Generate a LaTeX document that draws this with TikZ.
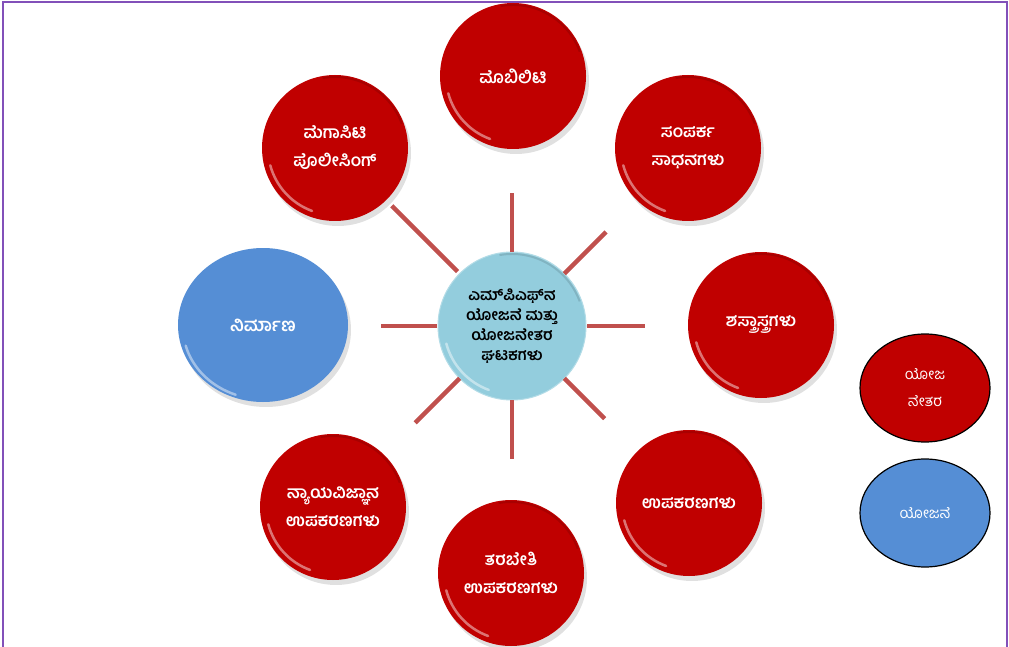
\documentclass[tikz,border=0pt]{standalone}
\usepackage{fontspec}
\newfontfamily\kn[Script=Kannada]{Hind Mysuru}
\usetikzlibrary{calc,shapes.geometric}
\definecolor{ballred}{HTML}{C00000}
\definecolor{ballblue}{HTML}{558ED5}
\definecolor{hubblue}{HTML}{93CDDD}
\definecolor{spokecol}{HTML}{C0504D}
\definecolor{framepurple}{RGB}{130,80,185}
\tikzset{
  ball/.style={circle, inner sep=0pt, align=center, text=white, font=\kn\bfseries\fontsize{17}{28}\selectfont},
  redball/.style={ball, fill=ballred, minimum size=146pt},
  hub/.style={circle, inner sep=0pt, align=center, fill=hubblue, draw=hubblue!70!white, line width=1pt, minimum size=148pt, text=black, font=\kn\bfseries\fontsize{15.5}{20}\selectfont},
  legend/.style={ellipse, draw=black, line width=1.2pt, inner sep=0pt, minimum width=130pt, minimum height=108pt, align=center, text=white, font=\kn\fontsize{15}{27}\selectfont},
  spoke/.style={draw=spokecol, line width=4.5pt},
  shade/.style={fill=black, opacity=0.12},
  glint/.style={draw=white, opacity=0.45, line width=2.5pt, line cap=round},
}
\newcommand{\glint}[2]{%
  \draw[glint] ($(#1.center)+(195:#2pt-6pt)$) arc[start angle=195, end angle=250, radius=#2pt-6pt];
  \draw[draw=black, opacity=0.12, line width=2pt] ($(#1.center)+(20:#2pt-2pt)$) arc[start angle=20, end angle=100, radius=#2pt-2pt];
}
\begin{document}
\begin{tikzpicture}[x=1pt,y=-1pt]
\useasboundingbox (0,0) rectangle (1009,647);
\fill[white] (0,0) rectangle (1009,647);
\draw[framepurple, line width=2pt] (2.5,647) -- (2.5,2) -- (1007,2) -- (1007,647);

% shadows
\fill[shade] (516,81) circle[radius=73pt];
\fill[shade] (338,153) circle[radius=73pt];
\fill[shade] (691,153) circle[radius=73pt];
\fill[shade] (764,330) circle[radius=73pt];
\fill[shade] (692,508) circle[radius=73pt];
\fill[shade] (514,578) circle[radius=73pt];
\fill[shade] (336,512) circle[radius=73pt];
\fill[shade] (266,330) ellipse[x radius=85pt, y radius=77pt];

% hub
\node[hub] (hub) at (512,326) {ಎಮ್\char"200Cಪಿಎಫ್\char"200Cನ\\ಯೋಜನೆ ಮತ್ತು\\ಯೋಜನೇತರ\\ಘಟಕಗಳು};

% outer balls
\node[redball] (mob) at (513,76) {ಮೊಬಿಲಿಟಿ};
\node[redball] (mega) at (335,148) {ಮೆಗಾಸಿಟಿ\\ಪೊಲೀಸಿಂಗ್};
\node[redball] (samp) at (688,148) {ಸಂಪರ್ಕ\\ಸಾಧನಗಳು};
\node[redball] (shas) at (761,325) {ಶಸ್ತ್ರಾಸ್ತ್ರಗಳು};
\node[redball] (upak) at (689,503) {ಉಪಕರಣಗಳು};
\node[redball] (tara) at (511,573) {ತರಬೇತಿ\\ಉಪಕರಣಗಳು};
\node[redball] (nyay) at (333,507) {ನ್ಯಾಯವಿಜ್ಞಾನ\\ಉಪಕರಣಗಳು};
\node[ball, ellipse, fill=ballblue, minimum width=170pt, minimum height=154pt] (nirm) at (263,325) {\fontsize{18}{22}\selectfont ನಿರ್ಮಾಣ};

\glint{mob}{73}
\glint{mega}{73}
\glint{samp}{73}
\glint{shas}{73}
\glint{upak}{73}
\glint{tara}{73}
\glint{nyay}{73}
\glint{hub}{74}
\draw[glint] ($(nirm.center)+(195:80pt)$) arc[start angle=195, end angle=250, x radius=80pt, y radius=72pt];

% spokes
\draw[spoke] ($(hub.center)+(90:74pt)$) -- ($(hub.center)+(90:133pt)$);
\draw[spoke] ($(hub.center)+(270:74pt)$) -- ($(hub.center)+(270:133pt)$);
\draw[spoke] ($(hub.center)+(180:75pt)$) -- ($(hub.center)+(180:131pt)$);
\draw[spoke] ($(hub.center)+(0:75pt)$) -- ($(hub.center)+(0:133pt)$);
\draw[spoke] ($(hub.center)+(135:77pt)$) -- ($(hub.center)+(135:170pt)$);
\draw[spoke] ($(hub.center)+(45:74pt)$) -- ($(hub.center)+(45:133pt)$);
\draw[spoke] ($(hub.center)+(225:74pt)$) -- ($(hub.center)+(225:137pt)$);
\draw[spoke] ($(hub.center)+(315:74pt)$) -- ($(hub.center)+(315:131pt)$);

% legend
\node[legend, fill=ballred] (legred) at (925,388) {ಯೋಜ\\ನೇತರ};
\node[legend, fill=ballblue] (legblue) at (925,513) {ಯೋಜನೆ};
\end{tikzpicture}
\end{document}
